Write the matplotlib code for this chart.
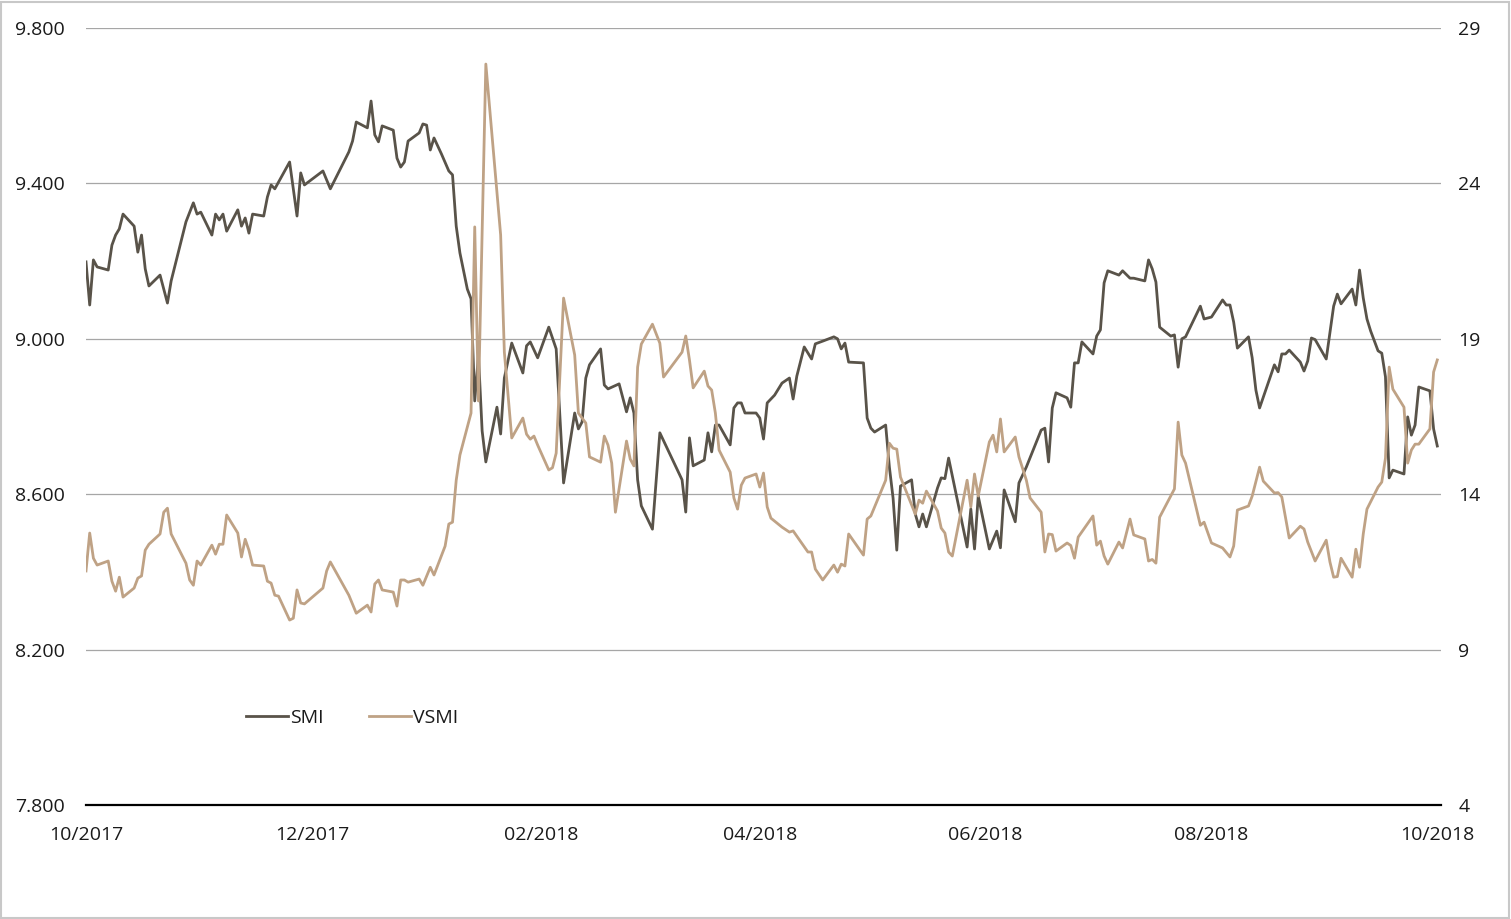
import pandas as pd
import matplotlib
matplotlib.use("Agg")
from matplotlib import pyplot as plt
import matplotlib.dates as mdates
from matplotlib.patches import Rectangle
from matplotlib.ticker import FuncFormatter

plt.rcParams['font.family'] = ['Open Sans', 'DejaVu Sans']

# SMI (left axis)
smi_dates = [
    '2017-10-01', '2017-10-02', '2017-10-03', '2017-10-04', '2017-10-07', '2017-10-08', '2017-10-09',
    '2017-10-10', '2017-10-11', '2017-10-14', '2017-10-15', '2017-10-16', '2017-10-17', '2017-10-18',
    '2017-10-21', '2017-10-23', '2017-10-24', '2017-10-28', '2017-10-30', '2017-10-31', '2017-11-01',
    '2017-11-04', '2017-11-05', '2017-11-06', '2017-11-07', '2017-11-08', '2017-11-11', '2017-11-12',
    '2017-11-13', '2017-11-14', '2017-11-15', '2017-11-18', '2017-11-19', '2017-11-20', '2017-11-21',
    '2017-11-25', '2017-11-27', '2017-11-28', '2017-11-29', '2017-12-04', '2017-12-06', '2017-12-11',
    '2017-12-12', '2017-12-13', '2017-12-16', '2017-12-17', '2017-12-18', '2017-12-19', '2017-12-20',
    '2017-12-23', '2017-12-24', '2017-12-25', '2017-12-26', '2017-12-27', '2017-12-30', '2017-12-31',
    '2018-01-01', '2018-01-02', '2018-01-03', '2018-01-05', '2018-01-07', '2018-01-08', '2018-01-09',
    '2018-01-10', '2018-01-12', '2018-01-13', '2018-01-14', '2018-01-15', '2018-01-16', '2018-01-17',
    '2018-01-20', '2018-01-21', '2018-01-22', '2018-01-24', '2018-01-27', '2018-01-28', '2018-01-29',
    '2018-01-31', '2018-02-03', '2018-02-05', '2018-02-07', '2018-02-10', '2018-02-11', '2018-02-12',
    '2018-02-13', '2018-02-14', '2018-02-17', '2018-02-18', '2018-02-19', '2018-02-22', '2018-02-24',
    '2018-02-25', '2018-02-26', '2018-02-27', '2018-02-28', '2018-03-03', '2018-03-05', '2018-03-11',
    '2018-03-12', '2018-03-13', '2018-03-14', '2018-03-17', '2018-03-18', '2018-03-19', '2018-03-20',
    '2018-03-21', '2018-03-24', '2018-03-25', '2018-03-26', '2018-03-27', '2018-03-28', '2018-03-31',
    '2018-04-01', '2018-04-02', '2018-04-03', '2018-04-04', '2018-04-05', '2018-04-07', '2018-04-09',
    '2018-04-10', '2018-04-11', '2018-04-13', '2018-04-15', '2018-04-16', '2018-04-18', '2018-04-21',
    '2018-04-22', '2018-04-23', '2018-04-24', '2018-04-25', '2018-04-29', '2018-04-30', '2018-05-01',
    '2018-05-02', '2018-05-05', '2018-05-06', '2018-05-07', '2018-05-08', '2018-05-09', '2018-05-12',
    '2018-05-13', '2018-05-14', '2018-05-15', '2018-05-16', '2018-05-19', '2018-05-20', '2018-05-21',
    '2018-05-22', '2018-05-27', '2018-05-28', '2018-05-29', '2018-05-30', '2018-06-02', '2018-06-04',
    '2018-06-05', '2018-06-06', '2018-06-09', '2018-06-10', '2018-06-12', '2018-06-16', '2018-06-17',
    '2018-06-18', '2018-06-19', '2018-06-20', '2018-06-23', '2018-06-24', '2018-06-25', '2018-06-26',
    '2018-06-27', '2018-06-30', '2018-07-01', '2018-07-02', '2018-07-03', '2018-07-04', '2018-07-07',
    '2018-07-08', '2018-07-10', '2018-07-11', '2018-07-14', '2018-07-15', '2018-07-16', '2018-07-17',
    '2018-07-18', '2018-07-21', '2018-07-22', '2018-07-23', '2018-07-24', '2018-07-25', '2018-07-29',
    '2018-07-30', '2018-08-01', '2018-08-04', '2018-08-05', '2018-08-06', '2018-08-07', '2018-08-08',
    '2018-08-11', '2018-08-12', '2018-08-13', '2018-08-14', '2018-08-18', '2018-08-19', '2018-08-20',
    '2018-08-21', '2018-08-22', '2018-08-25', '2018-08-26', '2018-08-27', '2018-08-28', '2018-08-29',
    '2018-09-01', '2018-09-03', '2018-09-04', '2018-09-05', '2018-09-08', '2018-09-09', '2018-09-10',
    '2018-09-11', '2018-09-12', '2018-09-13', '2018-09-15', '2018-09-16', '2018-09-17', '2018-09-18',
    '2018-09-19', '2018-09-22', '2018-09-23', '2018-09-24', '2018-09-25', '2018-09-26', '2018-09-29',
    '2018-09-30', '2018-10-01',
]
smi_values = [
    9198, 9087, 9203, 9185, 9177, 9241, 9267,
    9283, 9321, 9290, 9223, 9267, 9180, 9136,
    9164, 9092, 9149, 9301, 9350, 9321, 9326,
    9267, 9321, 9306, 9321, 9277, 9332, 9290,
    9311, 9272, 9321, 9316, 9365, 9396, 9386,
    9455, 9316, 9427, 9396, 9432, 9386, 9481,
    9509, 9558, 9543, 9612, 9525, 9507, 9548,
    9537, 9465, 9442, 9455, 9509, 9530, 9553,
    9550, 9486, 9517, 9476, 9432, 9422, 9290,
    9221, 9128, 9103, 8840, 8958, 8763, 8683,
    8824, 8755, 8899, 8989, 8912, 8982, 8992,
    8951, 9030, 8974, 8629, 8809, 8768, 8786,
    8899, 8933, 8974, 8881, 8871, 8884, 8812,
    8848, 8809, 8637, 8570, 8510, 8758, 8637,
    8554, 8745, 8673, 8688, 8758, 8709, 8778,
    8778, 8727, 8822, 8835, 8835, 8809, 8809,
    8796, 8742, 8835, 8845, 8855, 8886, 8899,
    8845, 8904, 8979, 8948, 8987, 8994, 9005,
    9000, 8974, 8989, 8940, 8938, 8796, 8770,
    8760, 8778, 8670, 8590, 8456, 8621, 8637,
    8549, 8516, 8549, 8516, 8616, 8642, 8640,
    8693, 8464, 8562, 8459, 8595, 8459, 8505,
    8462, 8611, 8529, 8629, 8670, 8765, 8770,
    8683, 8822, 8861, 8848, 8824, 8938, 8938,
    8992, 8961, 9007, 9023, 9144, 9175, 9164,
    9175, 9156, 9156, 9149, 9203, 9180, 9146,
    9030, 9007, 9010, 8927, 9000, 9005, 9084,
    9051, 9056, 9100, 9087, 9087, 9043, 8976,
    9005, 8951, 8868, 8822, 8933, 8915, 8961,
    8961, 8971, 8940, 8917, 8943, 9002, 8998,
    8948, 9084, 9115, 9090, 9128, 9087, 9177,
    9105, 9051, 9020, 8969, 8963, 8902, 8642,
    8662, 8652, 8799, 8752, 8778, 8876, 8866,
    8768, 8724,
]

# VSMI (right axis)
vsmi_dates = [
    '2017-10-01', '2017-10-02', '2017-10-03', '2017-10-04', '2017-10-07', '2017-10-08', '2017-10-09',
    '2017-10-10', '2017-10-11', '2017-10-14', '2017-10-15', '2017-10-16', '2017-10-17', '2017-10-18',
    '2017-10-21', '2017-10-22', '2017-10-23', '2017-10-24', '2017-10-28', '2017-10-29', '2017-10-30',
    '2017-10-31', '2017-11-01', '2017-11-04', '2017-11-05', '2017-11-06', '2017-11-07', '2017-11-08',
    '2017-11-11', '2017-11-12', '2017-11-13', '2017-11-14', '2017-11-15', '2017-11-18', '2017-11-19',
    '2017-11-20', '2017-11-21', '2017-11-22', '2017-11-25', '2017-11-26', '2017-11-27', '2017-11-28',
    '2017-11-29', '2017-12-04', '2017-12-05', '2017-12-06', '2017-12-11', '2017-12-13', '2017-12-16',
    '2017-12-17', '2017-12-18', '2017-12-19', '2017-12-20', '2017-12-23', '2017-12-24', '2017-12-25',
    '2017-12-26', '2017-12-27', '2017-12-30', '2017-12-31', '2018-01-02', '2018-01-03', '2018-01-06',
    '2018-01-07', '2018-01-08', '2018-01-09', '2018-01-10', '2018-01-13', '2018-01-14', '2018-01-15',
    '2018-01-17', '2018-01-21', '2018-01-22', '2018-01-24', '2018-01-27', '2018-01-28', '2018-01-29',
    '2018-01-30', '2018-01-31', '2018-02-03', '2018-02-04', '2018-02-05', '2018-02-07', '2018-02-10',
    '2018-02-11', '2018-02-13', '2018-02-14', '2018-02-17', '2018-02-18', '2018-02-19', '2018-02-20',
    '2018-02-21', '2018-02-24', '2018-02-25', '2018-02-26', '2018-02-27', '2018-02-28', '2018-03-03',
    '2018-03-05', '2018-03-06', '2018-03-11', '2018-03-12', '2018-03-13', '2018-03-14', '2018-03-17',
    '2018-03-18', '2018-03-19', '2018-03-20', '2018-03-21', '2018-03-24', '2018-03-25', '2018-03-26',
    '2018-03-27', '2018-03-28', '2018-03-31', '2018-04-01', '2018-04-02', '2018-04-03', '2018-04-04',
    '2018-04-07', '2018-04-09', '2018-04-10', '2018-04-14', '2018-04-15', '2018-04-16', '2018-04-18',
    '2018-04-21', '2018-04-22', '2018-04-23', '2018-04-24', '2018-04-25', '2018-04-29', '2018-04-30',
    '2018-05-01', '2018-05-05', '2018-05-06', '2018-05-07', '2018-05-08', '2018-05-09', '2018-05-13',
    '2018-05-14', '2018-05-15', '2018-05-16', '2018-05-19', '2018-05-20', '2018-05-21', '2018-05-22',
    '2018-05-23', '2018-05-27', '2018-05-28', '2018-05-29', '2018-05-30', '2018-06-02', '2018-06-03',
    '2018-06-04', '2018-06-05', '2018-06-06', '2018-06-07', '2018-06-09', '2018-06-10', '2018-06-12',
    '2018-06-13', '2018-06-16', '2018-06-17', '2018-06-18', '2018-06-19', '2018-06-20', '2018-06-23',
    '2018-06-24', '2018-06-25', '2018-06-26', '2018-06-30', '2018-07-01', '2018-07-02', '2018-07-03',
    '2018-07-04', '2018-07-07', '2018-07-08', '2018-07-10', '2018-07-11', '2018-07-14', '2018-07-15',
    '2018-07-16', '2018-07-17', '2018-07-18', '2018-07-22', '2018-07-23', '2018-07-24', '2018-07-25',
    '2018-07-29', '2018-07-30', '2018-08-01', '2018-08-04', '2018-08-06', '2018-08-07', '2018-08-08',
    '2018-08-11', '2018-08-12', '2018-08-14', '2018-08-15', '2018-08-18', '2018-08-19', '2018-08-20',
    '2018-08-22', '2018-08-25', '2018-08-26', '2018-08-27', '2018-08-29', '2018-09-01', '2018-09-02',
    '2018-09-03', '2018-09-04', '2018-09-05', '2018-09-08', '2018-09-09', '2018-09-10', '2018-09-11',
    '2018-09-12', '2018-09-15', '2018-09-16', '2018-09-17', '2018-09-18', '2018-09-19', '2018-09-22',
    '2018-09-23', '2018-09-24', '2018-09-25', '2018-09-26', '2018-09-29', '2018-09-30', '2018-10-01',
]
vsmi_values = [
    11.53, 12.75, 11.94, 11.72, 11.85, 11.20, 10.88,
    11.33, 10.69, 10.98, 11.30, 11.37, 12.20, 12.39,
    12.72, 13.42, 13.55, 12.72, 11.78, 11.24, 11.07,
    11.85, 11.72, 12.36, 12.07, 12.39, 12.39, 13.33,
    12.75, 11.98, 12.55, 12.20, 11.72, 11.69, 11.20,
    11.14, 10.75, 10.72, 9.95, 10.01, 10.92, 10.50,
    10.47, 10.98, 11.53, 11.82, 10.75, 10.17, 10.43,
    10.21, 11.11, 11.24, 10.92, 10.85, 10.40, 11.24,
    11.24, 11.17, 11.27, 11.07, 11.65, 11.40, 12.33,
    13.04, 13.10, 14.45, 15.26, 16.61, 22.60, 17.00,
    27.84, 22.34, 18.57, 15.81, 16.45, 15.93, 15.77,
    15.87, 15.58, 14.78, 14.85, 15.32, 20.31, 18.48,
    16.61, 16.29, 15.20, 15.03, 15.87, 15.58, 15.00,
    13.42, 15.71, 15.13, 14.91, 18.09, 18.83, 19.47,
    18.86, 17.77, 18.57, 19.09, 18.32, 17.42, 17.96,
    17.48, 17.35, 16.61, 15.42, 14.71, 13.88, 13.52,
    14.29, 14.52, 14.65, 14.23, 14.68, 13.59, 13.23,
    12.94, 12.78, 12.82, 12.14, 12.14, 11.59, 11.24,
    11.72, 11.49, 11.75, 11.69, 12.72, 12.04, 13.20,
    13.30, 14.45, 15.64, 15.48, 15.45, 14.55, 13.36,
    13.81, 13.71, 14.10, 13.46, 12.91, 12.75, 12.14,
    12.01, 14.45, 13.59, 14.65, 13.94, 15.68, 15.90,
    15.36, 16.42, 15.36, 15.52, 15.84, 15.20, 14.45,
    13.88, 13.42, 12.14, 12.72, 12.70, 12.17, 12.43,
    12.35, 11.94, 12.62, 13.30, 12.36, 12.49, 12.01,
    11.75, 12.46, 12.27, 13.20, 12.69, 12.56, 11.85,
    11.90, 11.78, 13.26, 14.17, 16.32, 15.26, 15.00,
    13.00, 13.10, 12.43, 12.27, 11.98, 12.33, 13.49,
    13.62, 13.94, 14.87, 14.42, 14.04, 14.05, 13.91,
    12.59, 12.97, 12.88, 12.46, 11.85, 12.52, 11.82,
    11.33, 11.35, 11.94, 11.33, 12.23, 11.65, 12.72,
    13.52, 14.23, 14.39, 15.16, 18.09, 17.38, 16.80,
    15.00, 15.42, 15.61, 15.61, 16.10, 17.93, 18.32,
]

left_ticks = [7800, 8200, 8600, 9000, 9400, 9800]
right_ticks = [4, 9, 14, 19, 24, 29]
month_ticks = ['2017-10-01', '2017-12-01', '2018-02-01', '2018-04-01',
               '2018-06-01', '2018-08-01', '2018-10-01']

smi_color = '#595349'
vsmi_color = '#bfa285'
text_color = '#1a1a1a'

fig = plt.figure(figsize=(15.11, 9.19), dpi=100)
ax = fig.add_axes([86 / 1511, 1 - 805 / 919, (1441 - 86) / 1511, (805 - 28) / 919])
ax2 = ax.twinx()

l1, = ax.plot(pd.to_datetime(smi_dates), smi_values, color=smi_color, lw=2.0, label='SMI')
l2, = ax2.plot(pd.to_datetime(vsmi_dates), vsmi_values, color=vsmi_color, lw=2.0, label='VSMI')

ax.set_xlim(pd.Timestamp('2017-10-01'), pd.Timestamp('2018-10-02'))
ax.set_ylim(7800, 9800)
ax2.set_ylim(4, 29)
ax.set_yticks(left_ticks)
ax2.set_yticks(right_ticks)
ax.yaxis.set_major_formatter(FuncFormatter(lambda v, p: f'{v:,.0f}'.replace(',', '.')))
ax.set_xticks(pd.to_datetime(month_ticks))
ax.xaxis.set_major_formatter(mdates.DateFormatter('%m/%Y'))

for a in (ax, ax2):
    for s in a.spines.values():
        s.set_visible(False)
    a.tick_params(length=0, labelsize=14, colors=text_color)
ax.tick_params(axis='y', pad=15)
ax2.tick_params(axis='y', pad=12.5)
ax.tick_params(axis='x', pad=15)
ax.spines['bottom'].set_visible(True)
ax.spines['bottom'].set_color('black')
ax.spines['bottom'].set_linewidth(1.6)

for t in left_ticks[1:]:
    ax.axhline(t, color='#a6a6a6', lw=0.9, zorder=0)

fig.legend(handles=[l1, l2], loc='center left', bbox_to_anchor=(236 / 1511, 1 - 718 / 919),
           ncol=2, frameon=False, fontsize=14, handlelength=2.15, handletextpad=0.12,
           columnspacing=2.35, borderpad=0, labelcolor=text_color)

fig.patches.append(Rectangle((1 / 1511, 1 / 919), 1508 / 1511, 916 / 919, transform=fig.transFigure,
                             fill=False, edgecolor='#c8c8c8', lw=1.5))

fig.savefig('out.png', dpi=100)
